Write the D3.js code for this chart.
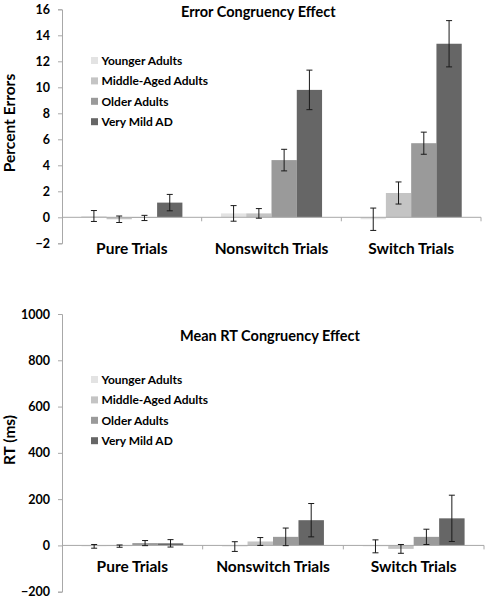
<!DOCTYPE html>
<html>
<head>
<meta charset="utf-8">
<script src="https://cdn.jsdelivr.net/npm/d3@7"></script>
<style>
  html, body { margin: 0; padding: 0; background: #fff; }
  text { font-family: Lato, "Open Sans", sans-serif; font-weight: bold; fill: #000; }
</style>
</head>
<body>
<svg id="chart" width="488" height="599"></svg>
<script>
const categories = ["Pure Trials", "Nonswitch Trials", "Switch Trials"];
const groups = ["Younger Adults", "Middle-Aged Adults", "Older Adults", "Very Mild AD"];
const groupColors = ["#e3e3e3", "#c4c4c4", "#9a9a9a", "#666666"];

// Error congruency effect (percent errors), per group across categories
const errorMeans = [
  [0.1, 0.3, -0.15],
  [-0.15, 0.3, 1.87],
  [-0.05, 4.4, 5.7],
  [1.13, 9.8, 13.35]
];
const errorSE = [
  [0.42, 0.6, 0.86],
  [0.25, 0.37, 0.85],
  [0.2, 0.83, 0.85],
  [0.63, 1.52, 1.78]
];
const errorTicks = [-2, 0, 2, 4, 6, 8, 10, 12, 14, 16];

// Mean RT congruency effect (ms)
const rtMeans = [
  [-4, -5, -4],
  [-3, 17, -15],
  [10, 37, 37],
  [9, 109, 117]
];
const rtSE = [
  [8, 21, 28],
  [5, 17, 19],
  [11, 38, 33],
  [16, 72, 100]
];
const rtTicks = [-200, 0, 200, 400, 600, 800, 1000];

const svg = d3.select("#chart");

function drawPanel(cfg) {
  const g = svg.append("g");
  const x0 = d3.scaleBand().domain(categories).range([cfg.left, cfg.right]).paddingInner(0).paddingOuter(0);
  const bw = x0.bandwidth();
  const x1 = d3.scaleBand().domain(groups).range([bw * 0.138, bw * 0.862]).paddingInner(0);
  const y = d3.scaleLinear().domain(cfg.domain).range([cfg.bottom, cfg.top]);

  // bars
  groups.forEach((grp, gi) => {
    categories.forEach((cat, ci) => {
      const v = cfg.means[gi][ci];
      const xx = x0(cat) + x1(grp);
      g.append("rect")
        .attr("x", xx)
        .attr("width", x1.bandwidth())
        .attr("y", Math.min(y(v), y(0)))
        .attr("height", Math.abs(y(v) - y(0)))
        .attr("fill", groupColors[gi]);
    });
  });

  // y axis
  const yAxis = d3.axisLeft(y).tickValues(cfg.ticks).tickSize(4).tickPadding(8).tickFormat(d3.format("d"));
  const ya = g.append("g").attr("transform", `translate(${cfg.left},0)`).call(yAxis);
  ya.select(".domain").attr("stroke", "#a8a8a8");
  ya.selectAll(".tick line").attr("stroke", "#a8a8a8");
  ya.selectAll(".tick text").attr("font-size", 12.5).attr("font-family", "Lato").attr("font-weight", "bold").attr("fill", "#000");

  // x axis at zero
  const xa = g.append("g").attr("transform", `translate(0,${y(0)})`);
  xa.append("line").attr("x1", cfg.left).attr("x2", cfg.right).attr("stroke", "#a8a8a8");
  const bounds = categories.map(c => x0(c)).concat([cfg.right]);
  bounds.slice(1).forEach(b => {
    xa.append("line").attr("x1", b).attr("x2", b).attr("y1", 0).attr("y2", 4).attr("stroke", "#a8a8a8");
  });

  // error bars
  groups.forEach((grp, gi) => {
    categories.forEach((cat, ci) => {
      const v = cfg.means[gi][ci], e = cfg.se[gi][ci];
      const cx = x0(cat) + x1(grp) + x1.bandwidth() / 2;
      const eg = g.append("g").attr("stroke", "#1a1a1a").attr("stroke-width", 1);
      eg.append("line").attr("x1", cx).attr("x2", cx).attr("y1", y(v + e)).attr("y2", y(v - e));
      eg.append("line").attr("x1", cx - 3).attr("x2", cx + 3).attr("y1", y(v + e)).attr("y2", y(v + e));
      eg.append("line").attr("x1", cx - 3).attr("x2", cx + 3).attr("y1", y(v - e)).attr("y2", y(v - e));
    });
  });

  // category labels
  categories.forEach(cat => {
    g.append("text").attr("x", x0(cat) + bw / 2).attr("y", cfg.catY)
      .attr("text-anchor", "middle").attr("font-size", 15.5).text(cat);
  });

  // title
  g.append("text").attr("x", cfg.titleX).attr("y", cfg.titleY).attr("font-size", 14.5).text(cfg.title);

  // y title
  g.append("text").attr("transform", `translate(${cfg.ytX},${cfg.ytY}) rotate(-90)`)
    .attr("text-anchor", "middle").attr("font-size", 15.5).text(cfg.yTitle);

  // legend
  groups.forEach((grp, gi) => {
    const ly = cfg.legY + gi * 20.4;
    g.append("rect").attr("x", 91).attr("y", ly - 3.5).attr("width", 7).attr("height", 7).attr("fill", groupColors[gi]);
    g.append("text").attr("x", 101.5).attr("y", ly).attr("dy", "0.36em").attr("font-size", 12).text(grp);
  });
}

drawPanel({
  left: 62, right: 481, top: 9.3, bottom: 243.3, domain: [-2, 16],
  ticks: errorTicks, means: errorMeans, se: errorSE,
  catY: 254, title: "Error Congruency Effect", titleX: 181, titleY: 17,
  yTitle: "Percent Errors", ytX: 15, ytY: 123, legY: 60.5
});

drawPanel({
  left: 62, right: 484, top: 314, bottom: 591.7, domain: [-200, 1000],
  ticks: rtTicks, means: rtMeans, se: rtSE,
  catY: 572, title: "Mean RT Congruency Effect", titleX: 180, titleY: 341,
  yTitle: "RT (ms)", ytX: 15, ytY: 440, legY: 379.5
});
</script>
</body>
</html>
